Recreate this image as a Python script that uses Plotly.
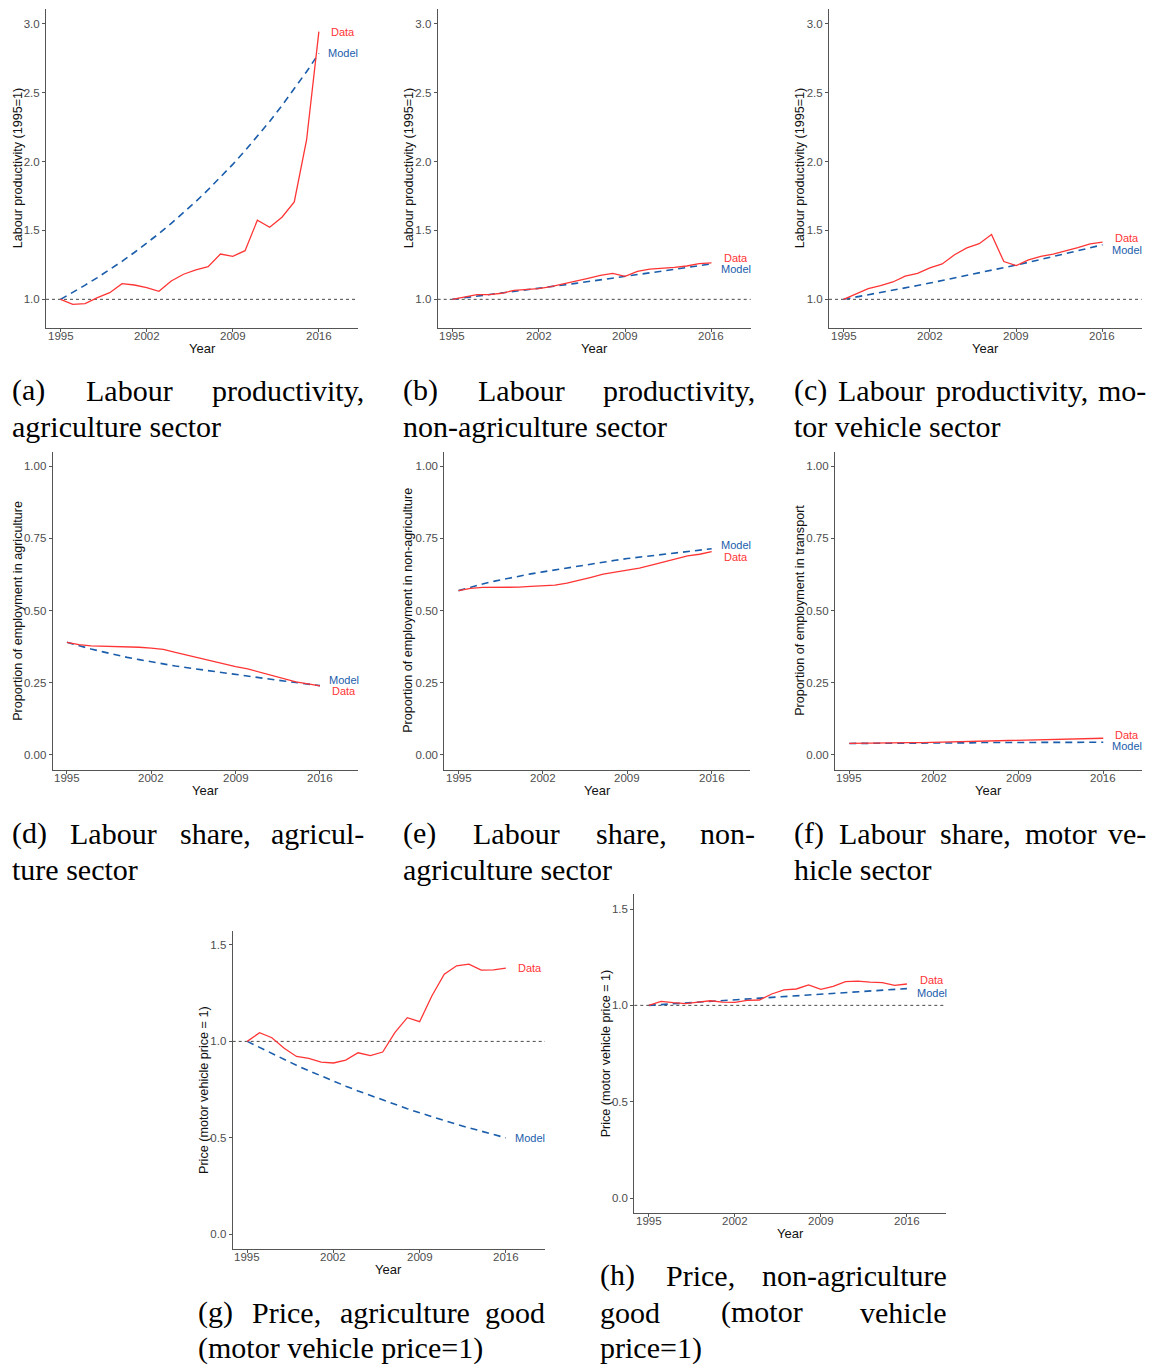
import plotly.graph_objects as go

W, H = 1151, 1365

years = list(range(1995, 2017))

# (a) Labour productivity, agriculture (1995 = 1)
prod_agri_data = [1.00, 0.964, 0.969, 1.012, 1.048, 1.114, 1.104, 1.085, 1.058, 1.133, 1.182,
                  1.213, 1.237, 1.329, 1.312, 1.353, 1.574, 1.523, 1.596, 1.707, 2.157, 2.944]
prod_agri_model = [1.000, 1.050, 1.103, 1.158, 1.216, 1.276, 1.340, 1.407, 1.477, 1.551, 1.629,
                   1.710, 1.796, 1.886, 1.980, 2.079, 2.183, 2.292, 2.407, 2.527, 2.653, 2.786]

# (b) Labour productivity, non-agriculture
prod_nonagri_data = [1.00, 1.015, 1.034, 1.034, 1.044, 1.065, 1.070, 1.077, 1.092, 1.114, 1.133,
                     1.153, 1.174, 1.189, 1.167, 1.203, 1.220, 1.225, 1.232, 1.242, 1.259, 1.264]
prod_nonagri_model = [1.000, 1.011, 1.022, 1.034, 1.045, 1.056, 1.068, 1.080, 1.092, 1.104, 1.116,
                      1.128, 1.141, 1.153, 1.166, 1.179, 1.192, 1.205, 1.218, 1.231, 1.245, 1.258]

# (c) Labour productivity, motor vehicle
prod_motor_data = [1.00, 1.036, 1.077, 1.099, 1.126, 1.169, 1.189, 1.228, 1.257, 1.324, 1.373,
                   1.404, 1.470, 1.274, 1.245, 1.286, 1.312, 1.329, 1.351, 1.375, 1.402, 1.416]
prod_motor_model = [1.000, 1.016, 1.032, 1.049, 1.066, 1.083, 1.100, 1.118, 1.136, 1.154, 1.172,
                    1.191, 1.210, 1.229, 1.249, 1.269, 1.289, 1.310, 1.331, 1.352, 1.374, 1.396]

# (d) Employment share, agriculture
share_agri_data = [0.390, 0.382, 0.378, 0.377, 0.377, 0.376, 0.373, 0.370, 0.366, 0.355, 0.345,
                   0.334, 0.324, 0.315, 0.306, 0.298, 0.287, 0.275, 0.263, 0.253, 0.246, 0.239]
share_agri_model = [0.390, 0.378, 0.367, 0.357, 0.347, 0.338, 0.330, 0.322, 0.315, 0.308, 0.302,
                    0.296, 0.290, 0.284, 0.278, 0.272, 0.266, 0.261, 0.256, 0.251, 0.245, 0.240]

# (e) Employment share, non-agriculture
share_nonagri_data = [0.569, 0.577, 0.580, 0.580, 0.580, 0.581, 0.584, 0.585, 0.588, 0.595, 0.604,
                      0.615, 0.626, 0.633, 0.639, 0.647, 0.657, 0.668, 0.678, 0.689, 0.695, 0.704]
share_nonagri_model = [0.569, 0.581, 0.592, 0.602, 0.611, 0.619, 0.627, 0.634, 0.641, 0.648, 0.655,
                       0.661, 0.667, 0.674, 0.680, 0.685, 0.690, 0.695, 0.700, 0.705, 0.710, 0.714]

# (f) Employment share, transport
share_motor_data = [0.040, 0.041, 0.041, 0.042, 0.042, 0.043, 0.043, 0.044, 0.044, 0.045, 0.046,
                    0.047, 0.049, 0.050, 0.051, 0.052, 0.053, 0.054, 0.055, 0.056, 0.057, 0.058]
share_motor_model = [0.040, 0.040, 0.041, 0.041, 0.041, 0.041, 0.042, 0.042, 0.042, 0.042, 0.042,
                     0.043, 0.043, 0.043, 0.043, 0.043, 0.043, 0.044, 0.044, 0.044, 0.044, 0.044]

# (g) Relative price, agriculture good
price_agri_data = [1.00, 1.045, 1.019, 0.964, 0.922, 0.912, 0.893, 0.888, 0.903, 0.941, 0.926,
                   0.945, 1.047, 1.123, 1.102, 1.237, 1.349, 1.392, 1.401, 1.370, 1.371, 1.380]
price_agri_model = [1.000, 0.968, 0.936, 0.906, 0.876, 0.848, 0.820, 0.794, 0.768, 0.743, 0.719,
                    0.695, 0.673, 0.651, 0.630, 0.609, 0.589, 0.570, 0.552, 0.534, 0.516, 0.500]

# (h) Relative price, non-agriculture good
price_nonagri_data = [1.00, 1.021, 1.014, 1.009, 1.017, 1.024, 1.017, 1.016, 1.026, 1.028, 1.059,
                      1.080, 1.085, 1.106, 1.083, 1.099, 1.123, 1.126, 1.121, 1.118, 1.104, 1.111]
price_nonagri_model = [1.000, 1.004, 1.008, 1.012, 1.017, 1.021, 1.025, 1.029, 1.033, 1.037, 1.041,
                       1.045, 1.049, 1.053, 1.057, 1.062, 1.066, 1.070, 1.074, 1.078, 1.082, 1.087]

x_ticks = [1995, 2002, 2009, 2016]
prod_ticks = [1.0, 1.5, 2.0, 2.5, 3.0]
prod_tick_text = ["1.0", "1.5", "2.0", "2.5", "3.0"]
share_ticks = [0.0, 0.25, 0.5, 0.75, 1.0]
share_tick_text = ["0.00", "0.25", "0.50", "0.75", "1.00"]
price_ticks = [0.0, 0.5, 1.0, 1.5]
price_tick_text = ["0.0", "0.5", "1.0", "1.5"]

prod_title = "Labour productivity (1995=1)"
price_title = "Price (motor vehicle price = 1)"

RED = "#FF3535"
BLUE = "#1A5DAB"
SANS = "Liberation Sans"
SERIF = "Liberation Serif"
TICK_FONT = dict(family=SANS, size=11.5, color="#4D4D4D")

# panel: series, y title, ticks, y range, pixel box (left, right, top, bottom),
# y-title x position, reference line, label nudges (data, model)
panels = [
    dict(d=prod_agri_data, m=prod_agri_model, yt=prod_title, tv=prod_ticks, tt=prod_tick_text,
         yr=[0.794, 3.108], box=(46, 358, 9, 327.7), ytx=18, ref=True, sh=(0, 0)),
    dict(d=prod_nonagri_data, m=prod_nonagri_model, yt=prod_title, tv=prod_ticks, tt=prod_tick_text,
         yr=[0.794, 3.108], box=(437.7, 750.7, 9, 327.7), ytx=409, ref=True, sh=(5, -5)),
    dict(d=prod_motor_data, m=prod_motor_model, yt=prod_title, tv=prod_ticks, tt=prod_tick_text,
         yr=[0.794, 3.108], box=(829, 1141.7, 9, 327.7), ytx=800, ref=True, sh=(4, -5)),
    dict(d=share_agri_data, m=share_agri_model, yt="Proportion of employment in agriculture",
         tv=share_ticks, tt=share_tick_text, yr=[-0.052, 1.05], box=(52.7, 358.3, 451.7, 770),
         ytx=18, ref=False, sh=(-5, 6)),
    dict(d=share_nonagri_data, m=share_nonagri_model, yt="Proportion of employment in non-agriculture",
         tv=share_ticks, tt=share_tick_text, yr=[-0.052, 1.05], box=(444.3, 750, 451.7, 770),
         ytx=408, ref=False, sh=(-5, 4)),
    dict(d=share_motor_data, m=share_motor_model, yt="Proportion of employment in transport",
         tv=share_ticks, tt=share_tick_text, yr=[-0.052, 1.05], box=(835, 1141.7, 451.7, 770),
         ytx=800, ref=False, sh=(3, -4)),
    dict(d=price_agri_data, m=price_agri_model, yt=price_title, tv=price_ticks, tt=price_tick_text,
         yr=[-0.078, 1.574], box=(232.7, 545, 930.7, 1249.3), ytx=204, ref=True, sh=(0, 0)),
    dict(d=price_nonagri_data, m=price_nonagri_model, yt=price_title, tv=price_ticks, tt=price_tick_text,
         yr=[-0.076, 1.578], box=(634.3, 946, 894, 1212.7), ytx=606, ref=True, sh=(4, -4)),
]

X_RANGE = [1993.82, 2019.18]
LABEL_X = 2018.0

fig = go.Figure()
annotations = []
shapes = []
layout_axes = {}


def px_x(p):
    return p / W


def px_y(p):
    return 1 - p / H


for i, p in enumerate(panels, start=1):
    xa = "x" if i == 1 else f"x{i}"
    ya = "y" if i == 1 else f"y{i}"
    xkey = "xaxis" if i == 1 else f"xaxis{i}"
    ykey = "yaxis" if i == 1 else f"yaxis{i}"
    left, right, top, bottom = p["box"]

    layout_axes[xkey] = dict(
        domain=[px_x(left), px_x(right)], range=X_RANGE, anchor=ya,
        tickvals=x_ticks, showticklabels=False,
        ticks="outside", ticklen=3, tickwidth=1, tickcolor="#555555",
        showline=True, linecolor="#555555", linewidth=1.1,
        showgrid=False, zeroline=False, fixedrange=True,
    )
    layout_axes[ykey] = dict(
        domain=[px_y(bottom), px_y(top)], range=p["yr"], anchor=xa,
        tickvals=p["tv"], ticktext=p["tt"],
        ticks="outside", ticklen=3, tickwidth=1, tickcolor="#555555",
        showline=True, linecolor="#555555", linewidth=1.1,
        showgrid=False, zeroline=False, tickfont=TICK_FONT, fixedrange=True,
    )

    if p["ref"]:
        shapes.append(dict(type="line", xref=f"{xa} domain", yref=ya, x0=0, x1=1, y0=1, y1=1,
                           line=dict(color="#333333", width=0.9, dash="3px,3px"), layer="below"))

    fig.add_trace(go.Scatter(x=years, y=p["m"], mode="lines", xaxis=xa, yaxis=ya,
                             line=dict(color=BLUE, width=1.6, dash="7px,5px"),
                             showlegend=False, hoverinfo="skip"))
    fig.add_trace(go.Scatter(x=years, y=p["d"], mode="lines", xaxis=xa, yaxis=ya,
                             line=dict(color=RED, width=1.3),
                             showlegend=False, hoverinfo="skip"))

    # year tick labels, set close under the axis line
    for yr in x_ticks:
        annotations.append(dict(x=yr, y=px_y(bottom + 8), xref=xa, yref="paper", text=str(yr),
                                showarrow=False, xanchor="center", yanchor="middle",
                                font=TICK_FONT))

    # series labels at the right end of each line
    annotations.append(dict(x=LABEL_X, y=p["d"][-1], xref=xa, yref=ya, text="Data",
                            showarrow=False, xanchor="center", yanchor="middle", yshift=p["sh"][0],
                            font=dict(family=SANS, size=11, color=RED)))
    annotations.append(dict(x=LABEL_X, y=p["m"][-1], xref=xa, yref=ya, text="Model",
                            showarrow=False, xanchor="center", yanchor="middle", yshift=p["sh"][1],
                            font=dict(family=SANS, size=11, color=BLUE)))

    # axis titles
    annotations.append(dict(x=px_x((left + right) / 2), y=px_y(bottom + 20.5), xref="paper", yref="paper",
                            text="Year", showarrow=False, xanchor="center", yanchor="middle",
                            font=dict(family=SANS, size=13, color="#111111")))
    annotations.append(dict(x=px_x(p["ytx"]), y=px_y((top + bottom) / 2), xref="paper", yref="paper",
                            text=p["yt"], showarrow=False, textangle=-90,
                            xanchor="center", yanchor="middle",
                            font=dict(family=SANS, size=12.6, color="#111111")))

# sub-captions, set as justified lines
CAP_SIZE = 30
char_w = {" ": 250, "(": 333, ")": 333, ",": 250, "-": 333, "=": 564, "1": 500,
          "a": 444, "b": 500, "c": 444, "d": 500, "e": 444, "f": 333, "g": 500, "h": 500,
          "i": 278, "l": 278, "m": 778, "n": 500, "o": 500, "p": 500, "r": 333, "s": 389,
          "t": 278, "u": 500, "v": 500, "y": 500, "L": 611, "P": 556}


def text_w(s):
    return sum(char_w.get(c, 500) for c in s) * CAP_SIZE / 1000.0


def cap_line(text, x0, x1, y, justify):
    if not justify:
        annotations.append(dict(x=px_x(x0), y=px_y(y), xref="paper", yref="paper", text=text,
                                showarrow=False, xanchor="left", yanchor="middle",
                                font=dict(family=SERIF, size=CAP_SIZE, color="#000000")))
        return
    words = text.split(" ")
    widths = [text_w(w) for w in words]
    gap = (x1 - x0 - sum(widths)) / (len(words) - 1)
    pos = x0
    for k, (w, wd) in enumerate(zip(words, widths)):
        last = k == len(words) - 1
        annotations.append(dict(x=px_x(x1 if last else pos), y=px_y(y), xref="paper", yref="paper",
                                text=w, showarrow=False, xanchor="right" if last else "left",
                                yanchor="middle",
                                font=dict(family=SERIF, size=CAP_SIZE, color="#000000")))
        pos += wd + gap


captions = [
    (10, 366, [(390, "(a) Labour productivity,", True), (426, "agriculture sector", False)]),
    (401, 757, [(390, "(b) Labour productivity,", True), (426, "non-agriculture sector", False)]),
    (792, 1148, [(390, "(c) Labour productivity, mo-", True), (426, "tor vehicle sector", False)]),
    (10, 366, [(833, "(d) Labour share, agricul-", True), (869, "ture sector", False)]),
    (401, 757, [(833, "(e) Labour share, non-", True), (869, "agriculture sector", False)]),
    (792, 1148, [(833, "(f) Labour share, motor ve-", True), (869, "hicle sector", False)]),
    (196, 547, [(1312, "(g) Price, agriculture good", True), (1348, "(motor vehicle price=1)", False)]),
    (598, 949, [(1275, "(h) Price, non-agriculture", True), (1312, "good (motor vehicle", True),
                (1348, "price=1)", False)]),
]
for x0, x1, lines in captions:
    for y, txt, just in lines:
        cap_line(txt, x0, x1, y, just)

fig.update_layout(
    width=W, height=H,
    margin=dict(l=0, r=0, t=0, b=0),
    paper_bgcolor="white", plot_bgcolor="white",
    annotations=annotations, shapes=shapes,
    showlegend=False,
    **layout_axes,
)

fig.write_html("out.html", config={"displayModeBar": False})
